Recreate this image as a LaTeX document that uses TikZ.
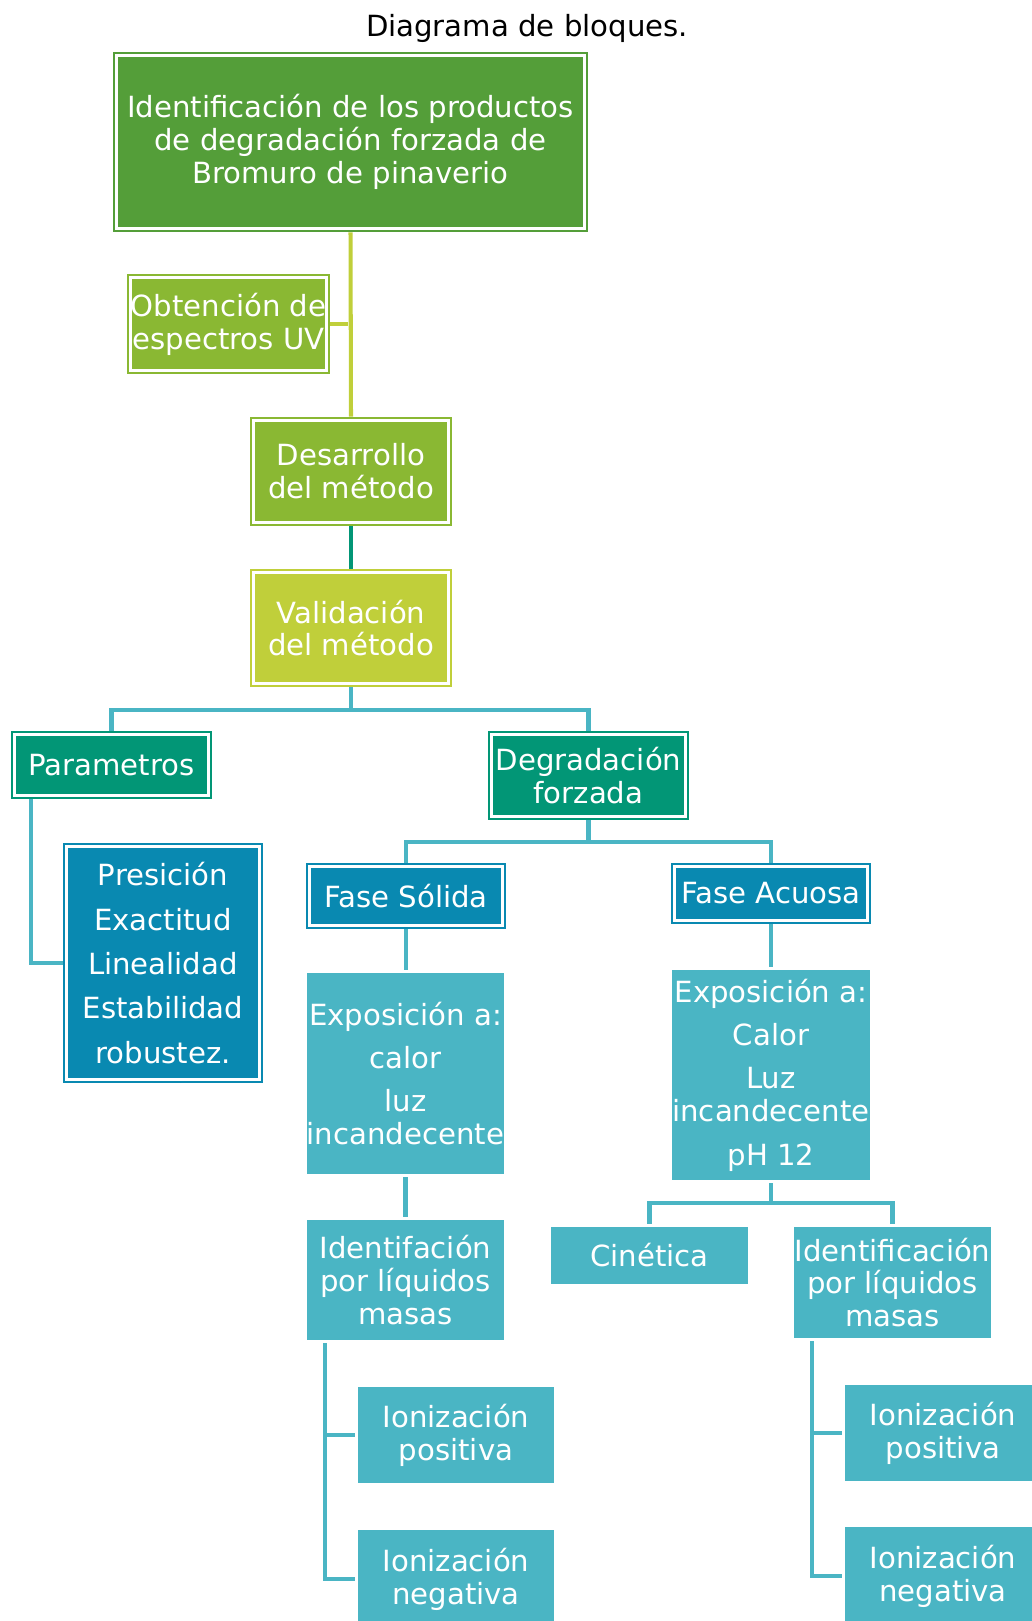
\documentclass[tikz,border=0pt]{standalone}
\usepackage{fontspec}
\setmainfont{DejaVu Sans}
\newcommand{\diagfont}{\fontsize{16.6}{18.7}\selectfont}
\definecolor{topgreen}{HTML}{549E39}
\definecolor{midgreen}{HTML}{8AB833}
\definecolor{limegreen}{HTML}{C0CF3A}
\definecolor{darkteal}{HTML}{029676}
\definecolor{ocean}{HTML}{0989B1}
\definecolor{aqua}{HTML}{4AB5C4}
\begin{document}
\begin{tikzpicture}[
    x=0.02cm, y=-0.02cm,
    block/.style={rectangle, align=center, text=white, inner sep=0pt, font=\diagfont},
    dblock/.style={block, draw=#1, fill=#1, double=white, double distance=1.6pt, line width=1.1pt},
    fblock/.style={block, fill=aqua},
    link/.style={draw=#1, line width=2.3pt, shorten <=0.06cm, shorten >=0.06cm},
    link/.default=aqua
]
    \useasboundingbox (0,0) rectangle (1031,1621);
    \node[font=\diagfont] (title) at (527,28) {Diagrama de bloques.};

    \node[dblock=topgreen, minimum width=9.36cm, minimum height=3.46cm] (top) at (350.5,142) {Identificación de los productos\\de degradación forzada de\\Bromuro de pinaverio};
    \node[dblock=midgreen, minimum width=3.88cm, minimum height=1.86cm] (obt) at (228.5,324) {Obtención de\\espectros UV};
    \node[dblock=midgreen, minimum width=3.9cm, minimum height=2.04cm] (des) at (351,471.5) {Desarrollo\\del método};
    \node[dblock=limegreen, minimum width=3.9cm, minimum height=2.22cm] (val) at (351,628) {Validación\\del método};

    \node[dblock=darkteal, minimum width=3.88cm, minimum height=1.22cm] (par) at (111.5,765) {Parametros};
    \node[dblock=darkteal, minimum width=3.88cm, minimum height=1.64cm] (deg) at (588.5,775.5) {Degradación\\forzada};
    \node[dblock=ocean, minimum width=3.86cm, minimum height=4.66cm] (pre) at (163,963) {Presición\\[0.23cm]Exactitud\\[0.23cm]Linealidad\\[0.23cm]Estabilidad\\[0.23cm]robustez.};

    \node[dblock=ocean, minimum width=3.86cm, minimum height=1.18cm] (fsol) at (406,896) {Fase Sólida};
    \node[dblock=ocean, minimum width=3.86cm, minimum height=1.08cm] (facu) at (771,893.5) {Fase Acuosa};

    \node[fblock, minimum width=3.94cm, minimum height=4.02cm] (expl) at (405.5,1073.5) {Exposición a:\\[0.21cm]calor\\[0.21cm]luz\\incandecente};
    \node[fblock, minimum width=3.92cm, minimum height=4.2cm] (expr) at (771,1075) {Exposición a:\\[0.21cm]Calor\\[0.21cm]Luz\\incandecente\\[0.21cm]pH 12};

    \node[fblock, minimum width=3.94cm, minimum height=2.4cm] (idl) at (405.5,1280) {Identifación\\por líquidos\\masas};
    \node[fblock, minimum width=3.94cm, minimum height=1.14cm] (cin) at (649.5,1255.5) {Cinética};
    \node[fblock, minimum width=3.94cm, minimum height=2.22cm] (idr) at (892.5,1282.5) {Identificación\\por líquidos\\masas};

    \node[fblock, minimum width=3.92cm, minimum height=1.92cm] (ipl) at (456,1435) {Ionización\\positiva};
    \node[fblock, minimum width=3.92cm, minimum height=1.96cm] (inl) at (456,1579) {Ionización\\negativa};
    \node[fblock, minimum width=3.92cm, minimum height=1.92cm] (ipr) at (943,1433) {Ionización\\positiva};
    \node[fblock, minimum width=3.92cm, minimum height=1.96cm] (inr) at (943,1576) {Ionización\\negativa};

    % connectors
    \draw[link=limegreen] (top.south) -- (des.north);
    \draw[link=limegreen] (obt.east) -- (obt.east -| top.south);
    \draw[link=darkteal] (des.south) -- (val.north);
    \draw[link] (val.south) -- ++(0,26) -| (par.north);
    \draw[link] (val.south) -- ++(0,26) -| (deg.north);
    \draw[link] ([xshift=0.35cm]par.south west) |- (pre.west);
    \draw[link] (deg.south) -- ++(0,24.5) -| (fsol.north);
    \draw[link] (deg.south) -- ++(0,24.5) -| (facu.north);
    \draw[link] (fsol.south) -- (fsol.south |- expl.north);
    \draw[link] (facu.south) -- (facu.south |- expr.north);
    \draw[link] (expl.south) -- (expl.south |- idl.north);
    \draw[link] (expr.south) -- ++(0,23) -| (cin.north);
    \draw[link] (expr.south) -- ++(0,23) -| (idr.north);
    \draw[link] ([xshift=0.37cm]idl.south west) |- (ipl.west);
    \draw[link] ([xshift=0.37cm]idl.south west) |- (inl.west);
    \draw[link] ([xshift=0.37cm]idr.south west) |- (ipr.west);
    \draw[link] ([xshift=0.37cm]idr.south west) |- (inr.west);
\end{tikzpicture}
\end{document}
